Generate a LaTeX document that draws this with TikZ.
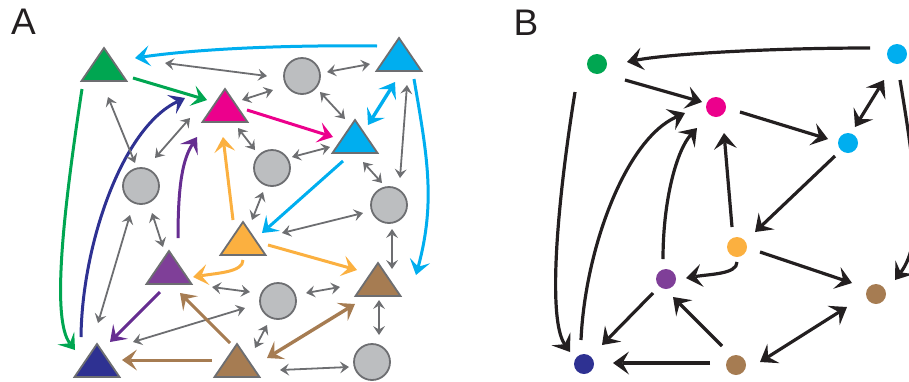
\documentclass[tikz,border=0pt]{standalone}
\usepackage{fontspec}
\setmainfont{Liberation Sans}
\usetikzlibrary{arrows.meta,calc}
\definecolor{cgreen}{HTML}{00A651}
\definecolor{cmag}{HTML}{EC008C}
\definecolor{ccyan}{HTML}{00AEEF}
\definecolor{corange}{HTML}{FBB040}
\definecolor{cpurple}{HTML}{7F3F98}
\definecolor{cpurpled}{HTML}{662D91}
\definecolor{cnavy}{HTML}{2E3192}
\definecolor{cbrown}{HTML}{A67C52}
\definecolor{cgray}{HTML}{BCBEC0}
\definecolor{cgd}{HTML}{6D6E71}
\definecolor{cblk}{HTML}{231F20}
\begin{document}
\begin{tikzpicture}[x=1pt,y=-1pt,
 tri/.style={circle, minimum size=50pt, inner sep=0pt},
 gc/.style={circle, minimum size=36pt, inner sep=0pt, fill=cgray, draw=cgd, line width=1.8pt},
 dot/.style={circle, minimum size=20pt, inner sep=0pt, fill=#1},
 ga/.style={{Stealth[length=9pt,width=12pt,inset=3.5pt,line width=0pt]}-{Stealth[length=9pt,width=12pt,inset=3.5pt,line width=0pt]}, draw=cgd, line width=1.8pt},
 ca/.style={-{Stealth[length=15pt,width=21pt,inset=6.5pt,line width=0pt]}, draw=#1, line width=3pt},
 cda/.style={{Stealth[length=15pt,width=21pt,inset=6.5pt,line width=0pt]}-{Stealth[length=15pt,width=21pt,inset=6.5pt,line width=0pt]}, draw=#1, line width=3.4pt},
 ba/.style={-{Stealth[length=16pt,width=23pt,inset=6.5pt,line width=0pt]}, draw=cblk, line width=3.2pt},
 bda/.style={{Stealth[length=16pt,width=23pt,inset=6.5pt,line width=0pt]}-{Stealth[length=16pt,width=23pt,inset=6.5pt,line width=0pt]}, draw=cblk, line width=3.2pt},
 lab/.style={font=\fontsize{37}{37}\selectfont, inner sep=0pt, text=cblk}
]
\useasboundingbox (0,0) rectangle (909,381);
% labels
\node[lab] (labA) at (23.5,21.5) {A};
\node[lab] (labB) at (526,22.5) {B};
% ---------- panel A nodes ----------
\node[tri] (tG)  at (104,70) {};
\node[tri] (tM)  at (225,111) {};
\node[tri] (tC1) at (399,60) {};
\node[tri] (tC2) at (355,142) {};
\node[tri] (tO)  at (243,244) {};
\node[tri] (tP)  at (169,273) {};
\node[tri] (tBR) at (378,285) {};
\node[tri] (tN)  at (97,366) {};
\node[tri] (tBB) at (237,366) {};
\foreach \n/\c in {tG/cgreen,tM/cmag,tC1/ccyan,tC2/ccyan,tO/corange,tP/cpurple,tBR/cbrown,tN/cnavy,tBB/cbrown}
  \filldraw[fill=\c, draw=cgd, line width=1.8pt] ($(\n)+(-22.5,11)$) -- ($(\n)+(22.5,11)$) -- ($(\n)+(0,-22)$) -- cycle;
\node[gc] (g1) at (302,76) {};
\node[gc] (g2) at (272,168) {};
\node[gc] (g3) at (141,186) {};
\node[gc] (g4) at (389,205) {};
\node[gc] (g5) at (278,301) {};
\node[gc] (g6) at (372,362) {};
% ---------- panel A connectors ----------
\draw[ga] ($(g1)+(-35,0)$) -- ($(tG)+(61,-7)$);
\draw[ga] ($(g1)+(25,-4)$) -- ($(tC1)+(-29,4)$);
\draw[ga] ($(g1)+(-29,14)$) -- ($(tM)+(17,-11)$);
\draw[ga] ($(g1)+(18,16)$) -- ($(tC2)+(-10,-23)$);
\draw[ca=cmag] ($(tM)+(22,-1)$) -- ($(tC2)+(-22,-5)$);
\draw[ga] ($(g2)+(20,-11)$) -- ($(tC2)+(-25,5)$);
\draw[ga] ($(tM)+(13,17)$) -- ($(g2)+(-17,-18)$);
\draw[cda=ccyan] ($(tC1)+(-4,22)$) -- ($(tC2)+(13,-17)$);
\draw[ga] ($(tC1)+(8,25)$) -- ($(g4)+(11,-27)$);
\draw[ga] ($(tC2)+(8,20)$) -- ($(g4)+(-7,-22)$);
\draw[ga] ($(g4)+(3,24)$) -- ($(tBR)+(14,-16)$);
\draw[ca=ccyan] ($(tC1)+(15,19)$) .. controls +(13,76) and +(20,-74) .. ($(tBR)+(38,-10)$);
\draw[ca=ccyan] ($(tC1)+(-22,-14)$) .. controls +(-80,-1) and +(70,-10) .. ($(tG)+(31,-12)$);
\draw[ca=cgreen] ($(tG)+(29,8)$) -- ($(tM)+(-18,-11)$);
\draw[ca=cgreen] ($(tG)+(-22,19)$) .. controls +(-20,131) and +(-23,-30) .. ($(tN)+(-22,-16)$);
\draw[ca=cnavy] ($(tN)+(-16,-29)$) .. controls +(1,-92) and +(-63,30) .. ($(tM)+(-40,-13)$);
\draw[ga] ($(tG)+(4,27)$) -- ($(g3)+(-6,-23)$);
\draw[ga] ($(tM)+(-35,7)$) -- ($(g3)+(14,-28)$);
\draw[ca=cpurpled] ($(tP)+(9,-35)$) .. controls +(0,-55) and +(-14,22) .. ($(tM)+(-28,26)$);
\draw[ca=corange] ($(tO)+(-10,-24)$) -- ($(tM)+(-2,26)$);
\draw[ga] ($(g3)+(11,27)$) -- ($(tP)+(-6,-26)$);
\draw[ga] ($(g3)+(-11,29)$) -- ($(tN)+(1,-43)$);
\draw[ca=cpurpled] ($(tP)+(-9,19)$) -- ($(tN)+(13,-24)$);
\draw[ga] ($(g5)+(-33,7)$) -- ($(tN)+(36,-24)$);
\draw[ga] ($(tP)+(43,14)$) -- ($(g5)+(-28,-9)$);
\draw[ca=cbrown] ($(tBB)+(-7,-23)$) -- ($(tP)+(11,20)$);
\draw[ca=cbrown] ($(tBB)+(-25,-6)$) -- ($(tN)+(25,-6)$);
\draw[ca=corange] ($(tO)+(0,16)$) .. controls +(0,12) and +(25,-4) .. ($(tP)+(24,4)$);
\draw[ca=corange] ($(tO)+(25,1)$) -- ($(tBR)+(-21,-15)$);
\draw[ca=ccyan] ($(tC2)+(-12,19)$) -- ($(tO)+(19,-11)$);
\draw[ga] ($(g2)+(-9,24)$) -- ($(tO)+(9,-24)$);
\draw[ga] ($(tO)+(39,-11)$) -- ($(g4)+(-26,8)$);
\draw[ga] ($(g5)+(28,-8)$) -- ($(tBR)+(-38,2)$);
\draw[ga] ($(g5)+(-11,24)$) -- ($(tBB)+(18,-18)$);
\draw[cda=cbrown] ($(tBB)+(30,-8)$) -- ($(tBR)+(-23,19)$);
\draw[ga] ($(tBB)+(43,4)$) -- ($(g6)+(-23,5)$);
\draw[ga] ($(tBR)+(1,15)$) -- ($(g6)+(7,-27)$);
% ---------- panel B nodes ----------
\node[dot=cgreen]  (bG)  at (597,64) {};
\node[dot=cmag]    (bM)  at (716,107) {};
\node[dot=ccyan]   (bC1) at (897,54) {};
\node[dot=ccyan]   (bC2) at (848,143) {};
\node[dot=corange] (bO)  at (737,247) {};
\node[dot=cpurple] (bP)  at (666,279) {};
\node[dot=cbrown]  (bBR) at (876,294) {};
\node[dot=cnavy]   (bN)  at (584,364) {};
\node[dot=cbrown]  (bBB) at (736,365) {};
% ---------- panel B connectors ----------
\draw[ba] ($(bC1)+(-27,-6)$) .. controls +(-100,0) and +(40,-8) .. ($(bG)+(30,-2)$);
\draw[ba] ($(bG)+(28,16)$) -- ($(bM)+(-14,-5)$);
\draw[ba] ($(bM)+(24,5)$) -- ($(bC2)+(-20,-4)$);
\draw[bda] ($(bC1)+(-13,26)$) -- ($(bC2)+(7,-16)$);
\draw[ba] ($(bC1)+(3,26)$) .. controls +(15,90) and +(30,-40) .. ($(bBR)+(19,-14)$);
\draw[ba] ($(bN)+(-3,-24)$) .. controls +(4,-90) and +(-60,27) .. ($(bM)+(-31,6)$);
\draw[ba] ($(bP)+(-3,-20)$) .. controls +(0,-60) and +(-20,22) .. ($(bM)+(-19,21)$);
\draw[ba] ($(bO)+(-5,-20)$) -- ($(bM)+(8,26)$);
\draw[ba] ($(bC2)+(-13,13)$) -- ($(bO)+(18,-15)$);
\draw[ba] ($(bG)+(-22,28)$) .. controls +(-19,118) and +(-22,-32) .. ($(bN)+(-14,-12)$);
\draw[ba] ($(bO)+(0,15)$) .. controls +(0,12) and +(25,-4) .. ($(bP)+(20,-1)$);
\draw[ba] ($(bO)+(23,5)$) -- ($(bBR)+(-24,-11)$);
\draw[bda] ($(bBB)+(24,-3)$) -- ($(bBR)+(-29,13)$);
\draw[ba] ($(bBB)+(-14,-19)$) -- ($(bP)+(7,18)$);
\draw[ba] ($(bBB)+(-26,-2)$) -- ($(bN)+(29,-1)$);
\draw[ba] ($(bP)+(-13,14)$) -- ($(bN)+(18,-19)$);
\end{tikzpicture}
\end{document}
